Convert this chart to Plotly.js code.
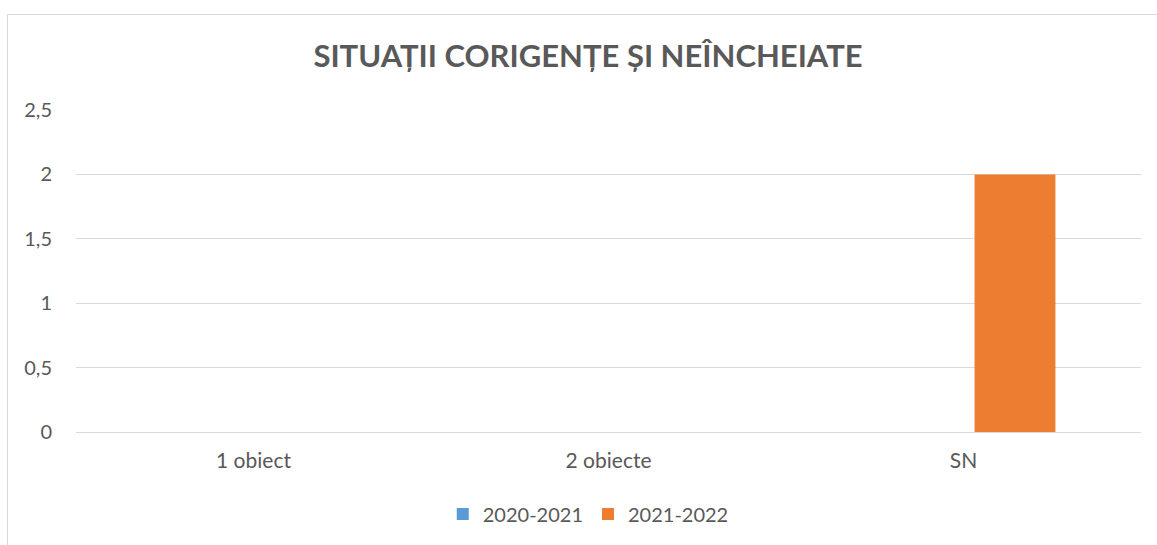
<!DOCTYPE html>
<html>
<head>
<meta charset="utf-8">
<script src="https://cdn.plot.ly/plotly-3.0.1.min.js"></script>
<style>
html,body{margin:0;padding:0;background:#fff;overflow:hidden;}
#chart{position:absolute;left:0;top:0;width:1157px;height:545px;}
#frame{position:absolute;left:7px;top:14px;width:1200px;height:600px;border:1.5px solid #d9d9d9;pointer-events:none;box-sizing:border-box;}
</style>
</head>
<body>
<div id="chart"></div>
<div id="frame"></div>
<script>
const categories = ["1 obiect", "2 obiecte", "SN"];
const seriesNames = ["2020-2021", "2021-2022"];
const values2020 = [0, 0, 0];
const values2021 = [0, 0, 2];
const yTicks = [0, 0.5, 1, 1.5, 2, 2.5];
const titleText = "SITUAȚII CORIGENȚE ȘI NEÎNCHEIATE";

const fontFam = "Lato, 'Open Sans', 'Liberation Sans', sans-serif";
const txt = "#595959";

const data = [
  {type: "bar", name: seriesNames[0], x: categories, y: values2020, marker: {color: "#5b9bd5"}},
  {type: "bar", name: seriesNames[1], x: categories, y: values2021, marker: {color: "#ed7d31"}}
];

const layout = {
  width: 1157, height: 545,
  separators: ",.",
  paper_bgcolor: "#fff", plot_bgcolor: "#fff",
  margin: {l: 75.5, r: 16, t: 110, b: 113},
  barmode: "group",
  bargap: 0.42,
  bargroupgap: 0.214,
  title: {text: "<b>" + titleText + "</b>", x: 588/1157, xanchor: "center", xref: "container", y: 1 - 56/545, yanchor: "middle", yref: "container",
    font: {family: fontFam, size: 31, color: txt}},
  font: {family: fontFam, size: 20, color: txt},
  xaxis: {type: "category", showgrid: false, zeroline: false, showline: false, ticks: "",
    tickfont: {family: fontFam, size: 21, color: txt}, ticklabelstandoff: 14},
  yaxis: {range: [0, 2.5], tickvals: yTicks, showgrid: true, gridcolor: "#d9d9d9", gridwidth: 1,
    zeroline: true, zerolinecolor: "#d9d9d9", zerolinewidth: 1, showline: false, ticks: "",
    tickfont: {family: fontFam, size: 20, color: txt}, ticklabelstandoff: 23},
  showlegend: true,
  legend: {orientation: "h", x: (588-75.5)/1065.5, xanchor: "center", y: (432-514)/322, yanchor: "middle",
    font: {family: fontFam, size: 20, color: txt}, itemwidth: 30, traceorder: "normal"}
};

Plotly.newPlot("chart", data, layout, {displayModeBar: false, staticPlot: true});
</script>
</body>
</html>
